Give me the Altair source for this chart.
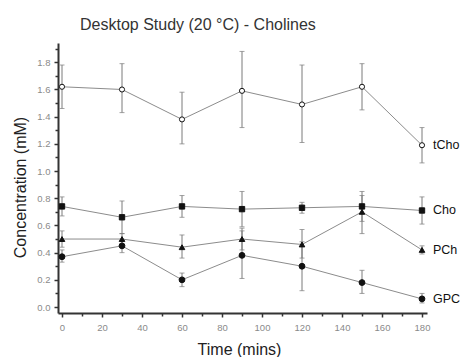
import altair as alt
import pandas as pd

times = [0, 30, 60, 90, 120, 150, 180]
series_names = ["tCho", "Cho", "PCh", "GPC"]

tCho = [1.62, 1.60, 1.38, 1.59, 1.49, 1.62, 1.19]
tCho_lo = [1.46, 1.43, 1.20, 1.32, 1.21, 1.45, 1.06]
tCho_hi = [1.78, 1.79, 1.58, 1.88, 1.78, 1.79, 1.32]

Cho = [0.74, 0.66, 0.74, 0.72, 0.73, 0.74, 0.71]
Cho_lo = [0.67, 0.54, 0.66, 0.59, 0.69, 0.63, 0.61]
Cho_hi = [0.81, 0.78, 0.82, 0.85, 0.77, 0.85, 0.81]

PCh = [0.50, 0.50, 0.44, 0.50, 0.46, 0.70, 0.42]
PCh_lo = [0.44, 0.46, 0.36, 0.42, 0.36, 0.54, 0.39]
PCh_hi = [0.56, 0.54, 0.53, 0.58, 0.57, 0.82, 0.45]

GPC = [0.37, 0.45, 0.20, 0.38, 0.30, 0.18, 0.06]
GPC_lo = [0.33, 0.40, 0.15, 0.21, 0.12, 0.10, 0.03]
GPC_hi = [0.42, 0.49, 0.25, 0.56, 0.48, 0.27, 0.10]

x_major = [0, 20, 40, 60, 80, 100, 120, 140, 160, 180]
x_minor = [10, 30, 50, 70, 90, 110, 130, 150, 170]
y_major = [0.0, 0.2, 0.4, 0.6, 0.8, 1.0, 1.2, 1.4, 1.6, 1.8]
y_minor = [0.1, 0.3, 0.5, 0.7, 0.9, 1.1, 1.3, 1.5, 1.7, 1.9]

vals = {"tCho": (tCho, tCho_lo, tCho_hi), "Cho": (Cho, Cho_lo, Cho_hi),
        "PCh": (PCh, PCh_lo, PCh_hi), "GPC": (GPC, GPC_lo, GPC_hi)}
rows = []
for s in series_names:
    v, lo, hi = vals[s]
    for i, t in enumerate(times):
        rows.append({"series": s, "time": t, "value": v[i], "lo": lo[i], "hi": hi[i]})
df = pd.DataFrame(rows)
last = df[df["time"] == times[-1]]

FONT = "Liberation Sans"
xscale = alt.Scale(domain=[-2, 182.5], nice=False, zero=False)
yscale = alt.Scale(domain=[-0.044, 1.942], nice=False, zero=False)

x_axis = alt.Axis(values=x_major, orient="bottom", grid=False, domainColor="#333333",
                  domainWidth=2, tickColor="#333333", tickSize=4, tickWidth=1.5,
                  labelColor="#8a8a8a", labelFont=FONT, labelFontSize=9.5, labelPadding=5,
                  format="d", title="Time (mins)", titleFont=FONT, titleFontSize=16,
                  titleFontWeight="normal", titleColor="#222222", titleBaseline="middle",
                  titleY=36, titleX=181)
y_axis = alt.Axis(values=y_major, orient="left", grid=False, domainColor="#333333",
                  domainWidth=2, tickColor="#333333", tickSize=4, tickWidth=1.5,
                  labelColor="#8a8a8a", labelFont=FONT, labelFontSize=9.5, labelPadding=4,
                  format=".1f", title="Concentration (mM)", titleFont=FONT, titleFontSize=16,
                  titleFontWeight="normal", titleColor="#222222", titleBaseline="middle",
                  titleAngle=-90, titleX=-37.5, titleY=144)

x_minor_axis = alt.Axis(values=x_minor, orient="bottom", grid=False, domain=False,
                        labels=False, title=None, tickColor="#333333", tickSize=3, tickWidth=1.5)
y_minor_axis = alt.Axis(values=y_minor, orient="left", grid=False, domain=False,
                        labels=False, title=None, tickColor="#333333", tickSize=3, tickWidth=1.5)

base = alt.Chart(df)
X = alt.X("time:Q", scale=xscale, axis=None)
Y = alt.Y("value:Q", scale=yscale, axis=None)

minor = base.mark_point(opacity=0).encode(
    x=alt.X("time:Q", scale=xscale, axis=x_minor_axis),
    y=alt.Y("value:Q", scale=yscale, axis=y_minor_axis),
)

lines = base.mark_line(color="#8c8c8c", strokeWidth=1).encode(
    x=alt.X("time:Q", scale=xscale, axis=x_axis),
    y=alt.Y("value:Q", scale=yscale, axis=y_axis),
    detail="series:N",
)

err = base.mark_rule(color="#7a7a7a", strokeWidth=1).encode(
    x=X, y=alt.Y("lo:Q", scale=yscale, axis=None), y2="hi:Q")
cap_lo = base.mark_tick(color="#7a7a7a", orient="horizontal", size=5, thickness=1).encode(
    x=X, y=alt.Y("lo:Q", scale=yscale, axis=None))
cap_hi = base.mark_tick(color="#7a7a7a", orient="horizontal", size=5, thickness=1).encode(
    x=X, y=alt.Y("hi:Q", scale=yscale, axis=None))

points = base.mark_point(filled=True, opacity=1, stroke="#111111", strokeWidth=1).encode(
    x=X,
    y=Y,
    shape=alt.Shape("series:N", scale=alt.Scale(domain=series_names,
                    range=["circle", "square", "triangle-up", "circle"]), legend=None),
    fill=alt.Fill("series:N", scale=alt.Scale(domain=series_names,
                  range=["#ffffff", "#111111", "#111111", "#111111"]), legend=None),
    size=alt.Size("series:N", scale=alt.Scale(domain=series_names,
                  range=[26, 34, 38, 28]), legend=None),
)

labels = alt.Chart(last).mark_text(align="left", baseline="middle", dx=11, font=FONT,
                                   fontSize=12.5, color="#111111").encode(
    x=X, y=Y, text="series:N")

chart = alt.layer(minor, lines, err, cap_lo, cap_hi, points, labels).resolve_axis(
    x="independent", y="independent"
).properties(
    width=369, height=270,
    title=alt.TitleParams("Desktop Study (20 °C) - Cholines", anchor="start", frame="group",
                          dx=22, offset=10, font=FONT, fontSize=16, fontWeight="normal",
                          color="#333333"),
    autosize=alt.AutoSizeParams(type="none"),
    padding={"left": 50, "top": 35, "right": 34, "bottom": 44},
).configure_view(stroke=None)

chart.save("out.html", embed_options={"renderer": "svg", "actions": False})
